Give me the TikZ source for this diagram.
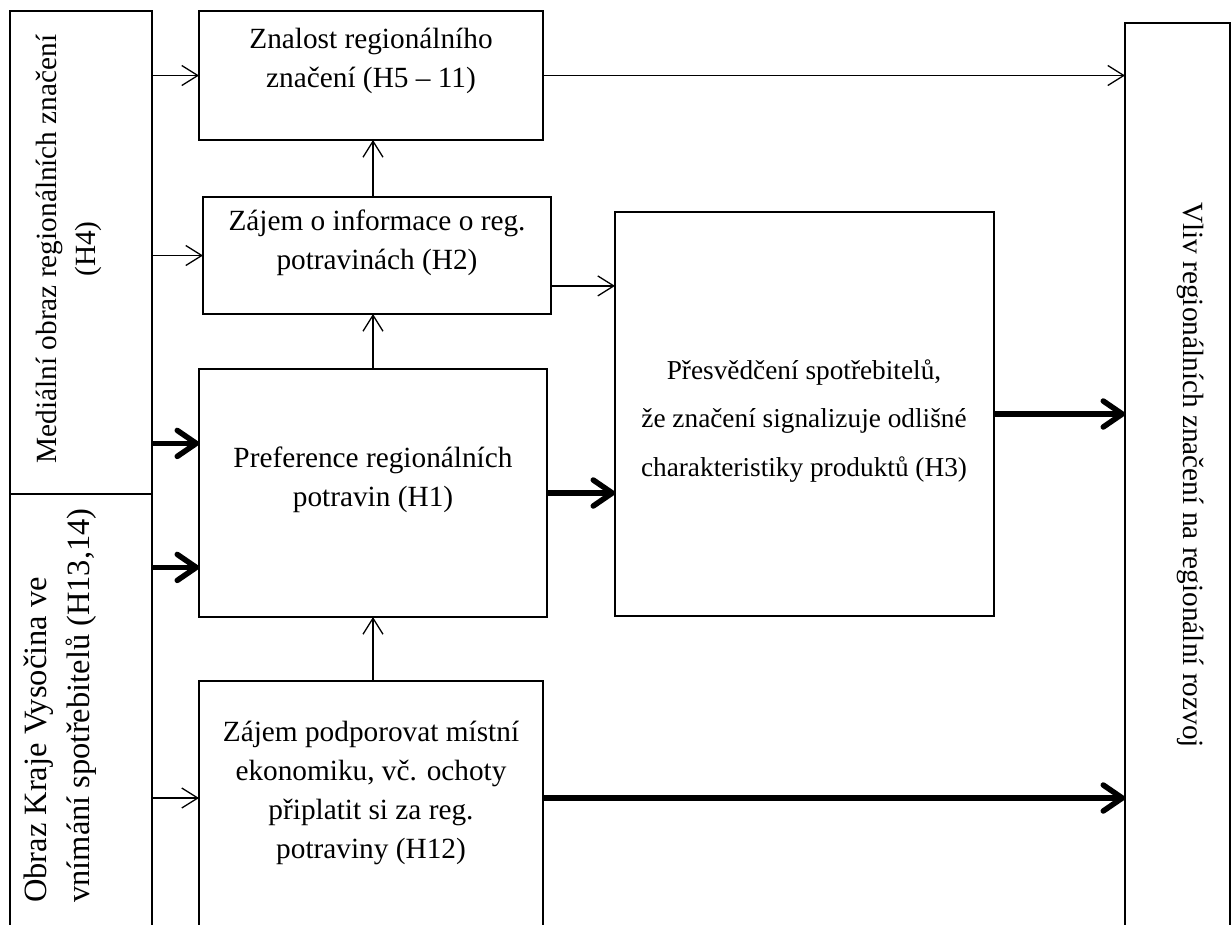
\documentclass[tikz,border=0pt]{standalone}
\usepackage{fontspec}
\setmainfont{Liberation Serif}
\usetikzlibrary{arrows.meta,calc}
\begin{document}
\begin{tikzpicture}[x=1pt,y=-1pt,
  box/.style={draw, line width=1.3pt, rectangle, inner sep=0pt, outer sep=0pt, anchor=north west},
  txt/.style={align=center, inner sep=0pt, font=\fontsize{29.3}{39}\selectfont},
  thinarr/.style={line width=1.3pt, -{Straight Barb[length=16pt,width=20pt]}},
  thickarr/.style={line width=5.5pt, -{Straight Barb[round,length=19pt,width=26pt]}},
]
\clip (0,0) rectangle (1231,924);
\useasboundingbox (0,0) rectangle (1231,924);
\fill[white] (0,0) rectangle (1231,924);

% boxes
\node[box, minimum width=142pt, minimum height=483pt] (media) at (10,11) {};
\node[box, minimum width=142pt, minimum height=440pt] (obraz) at (10,494) {};
\node[box, minimum width=344pt, minimum height=129pt] (znal) at (199,11) {};
\node[box, minimum width=348pt, minimum height=117pt] (zajem) at (203,197) {};
\node[box, minimum width=348pt, minimum height=248pt] (pref) at (199,369) {};
\node[box, minimum width=344pt, minimum height=260pt] (podp) at (199,681) {};
\node[box, minimum width=379pt, minimum height=404pt] (pres) at (615,212) {};
\node[box, minimum width=105pt, minimum height=920pt] (vliv) at (1125,23) {};

% labels
\node[txt, rotate=90] (mediaT) at (69,249) {Mediální obraz regionálních značení\\(H4)};
\node[txt, rotate=90, anchor=west, align=left, font=\fontsize{32.5}{43}\selectfont] (obrazT) at (60,903) {Obraz Kraje Vysočina ve\\vnímání spotřebitelů (H13,14)};
\node[txt] (znalT) at (371,61) {Znalost regionálního\\značení (H5 – 11)};
\node[txt] (zajemT) at (377,243) {Zájem o informace o reg.\\potravinách (H2)};
\node[txt] (prefT) at (373,480) {Preference regionálních\\potravin (H1)};
\node[txt] (podpT) at (371,793) {Zájem podporovat místní\\ekonomiku, vč. ochoty\\připlatit si za reg.\\potraviny (H12)};
\node[txt, font=\fontsize{27.3}{48.5}\selectfont] (presT) at (804,421) {Přesvědčení spotřebitelů,\\že značení signalizuje odlišné\\charakteristiky produktů (H3)};
\node[txt, rotate=-90] (vlivT) at (1191,475) {Vliv regionálních značení na regionální rozvoj};

% helper points
\coordinate (spine) at (373,0);
\coordinate (lvl) at (0,798);
\coordinate (pA) at ($(pref.north west)!0.3!(pref.south west)$);
\coordinate (pB) at ($(pref.north west)!0.8!(pref.south west)$);
\coordinate (pC) at ($(zajem.north east)!0.76!(zajem.south east)$);

% connectors
\draw[thinarr] (media.east |- znal.west) -- (znal.west);
\draw[thinarr] (media.east |- zajem.west) -- (zajem.west);
\draw[thickarr] (media.east |- pA) -- (pA);
\draw[thickarr] (obraz.east |- pB) -- (pB);
\draw[thinarr] (obraz.east |- lvl) -- (podp.west |- lvl);
\draw[thinarr] (zajem.north -| spine) -- (znal.south -| spine);
\draw[thinarr] (pref.north -| spine) -- (zajem.south -| spine);
\draw[thinarr] (podp.north -| spine) -- (pref.south -| spine);
\draw[thinarr] (znal.east) -- (znal.east -| vliv.west);
\draw[thinarr] (pC) -- (pC -| pres.west);
\draw[thickarr] (pref.east) -- (pref.east -| pres.west);
\draw[thickarr] (pres.east) -- (pres.east -| vliv.west);
\draw[thickarr] (podp.east |- lvl) -- (vliv.west |- lvl);
\end{tikzpicture}
\end{document}
